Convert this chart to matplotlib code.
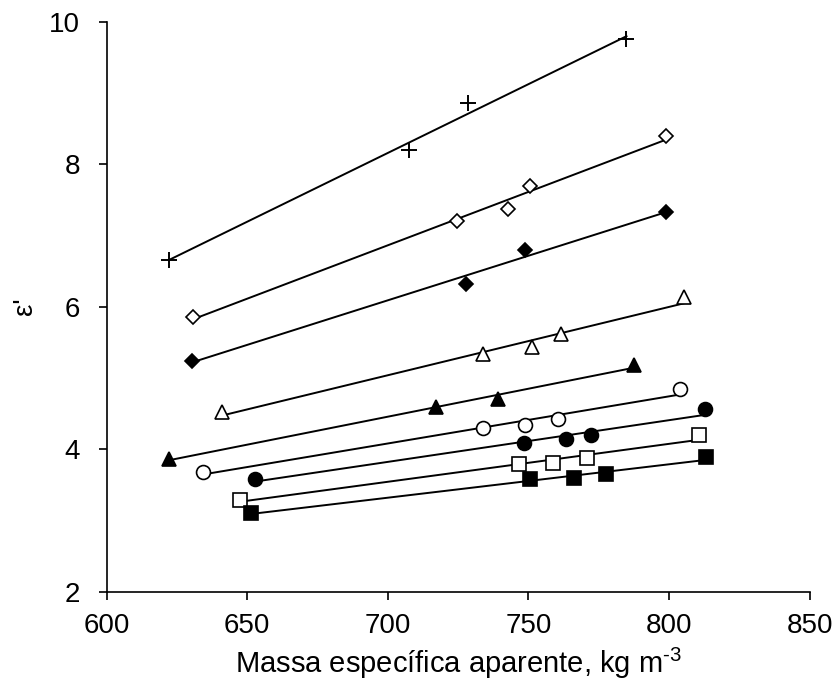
import numpy as np
import matplotlib
matplotlib.use('Agg')
import matplotlib.pyplot as plt

plt.rcParams['font.family'] = ['Liberation Sans', 'DejaVu Sans']
plt.rcParams['mathtext.fontset'] = 'custom'
plt.rcParams['mathtext.rm'] = 'Liberation Sans'
plt.rcParams['mathtext.it'] = 'Liberation Sans'

# massa especifica (x) e constante dielectrica (y) de cada serie
x_plus = [622.1, 707.5, 728.5, 784.9]
y_plus = [6.65, 8.20, 8.86, 9.75]
x_diam_open = [630.6, 724.7, 742.9, 750.6, 798.9]
y_diam_open = [5.86, 7.20, 7.37, 7.69, 8.40]
x_diam_fill = [630.3, 727.7, 748.9, 798.9]
y_diam_fill = [5.24, 6.32, 6.79, 7.33]
x_tri_open = [640.9, 733.9, 751.4, 761.5, 805.5]
y_tri_open = [4.52, 5.33, 5.43, 5.62, 6.14]
x_tri_fill = [622.1, 717.0, 739.3, 787.4]
y_tri_fill = [3.86, 4.59, 4.71, 5.18]
x_circ_open = [634.2, 733.9, 748.9, 760.7, 803.8]
y_circ_open = [3.68, 4.30, 4.34, 4.43, 4.85]
x_circ_fill = [652.9, 748.6, 763.3, 772.3, 812.7]
y_circ_fill = [3.58, 4.09, 4.14, 4.20, 4.56]
x_sq_open = [647.6, 746.5, 758.8, 771.0, 810.6]
y_sq_open = [3.29, 3.79, 3.81, 3.87, 4.20]
x_sq_fill = [651.2, 750.7, 766.4, 777.6, 813.3]
y_sq_fill = [3.10, 3.58, 3.59, 3.65, 3.89]

series = [
    (x_plus, y_plus, '+', 'black'),
    (x_diam_open, y_diam_open, 'D', 'white'),
    (x_diam_fill, y_diam_fill, 'D', 'black'),
    (x_tri_open, y_tri_open, '^', 'white'),
    (x_tri_fill, y_tri_fill, '^', 'black'),
    (x_circ_open, y_circ_open, 'o', 'white'),
    (x_circ_fill, y_circ_fill, 'o', 'black'),
    (x_sq_open, y_sq_open, 's', 'white'),
    (x_sq_fill, y_sq_fill, 's', 'black'),
]

fig = plt.figure(figsize=(8.38, 6.88), dpi=100)
ax = fig.add_axes([0.1273, 0.14, 0.8387, 0.8285])

for xs, ys, mk, fc in series:
    xs = np.array(xs)
    ys = np.array(ys)
    a, b = np.polyfit(xs, ys, 1)
    xl = np.array([xs.min(), xs.max()])
    ax.plot(xl, a * xl + b, color='black', lw=1.4, zorder=2)
    if mk == '+':
        ax.plot(xs, ys, ls='none', marker='+', ms=11, mew=1.4, color='black', zorder=3)
    elif mk == 'D':
        ax.plot(xs, ys, ls='none', marker='D', ms=7.5, mew=1.2, mfc=fc, mec='black', zorder=3)
    else:
        ax.plot(xs, ys, ls='none', marker=mk, ms=10, mew=1.2, mfc=fc, mec='black', zorder=3)

ax.set_xlim(600, 850)
ax.set_ylim(2, 10)
ax.set_xticks([600, 650, 700, 750, 800, 850])
ax.set_yticks([2, 4, 6, 8, 10])
ax.spines['top'].set_visible(False)
ax.spines['right'].set_visible(False)
ax.spines['left'].set_linewidth(1.2)
ax.spines['bottom'].set_linewidth(1.2)
ax.tick_params(direction='out', length=6, width=1.2, labelsize=20)
ax.tick_params(axis='y', pad=13)
ax.tick_params(axis='x', pad=9)
ax.set_xlabel(r'Massa específica aparente, kg m$^{\text{-3}}$', fontsize=21, labelpad=5)
ax.set_ylabel("ε'", fontsize=20, labelpad=8)

fig.savefig('out.png', dpi=100)
